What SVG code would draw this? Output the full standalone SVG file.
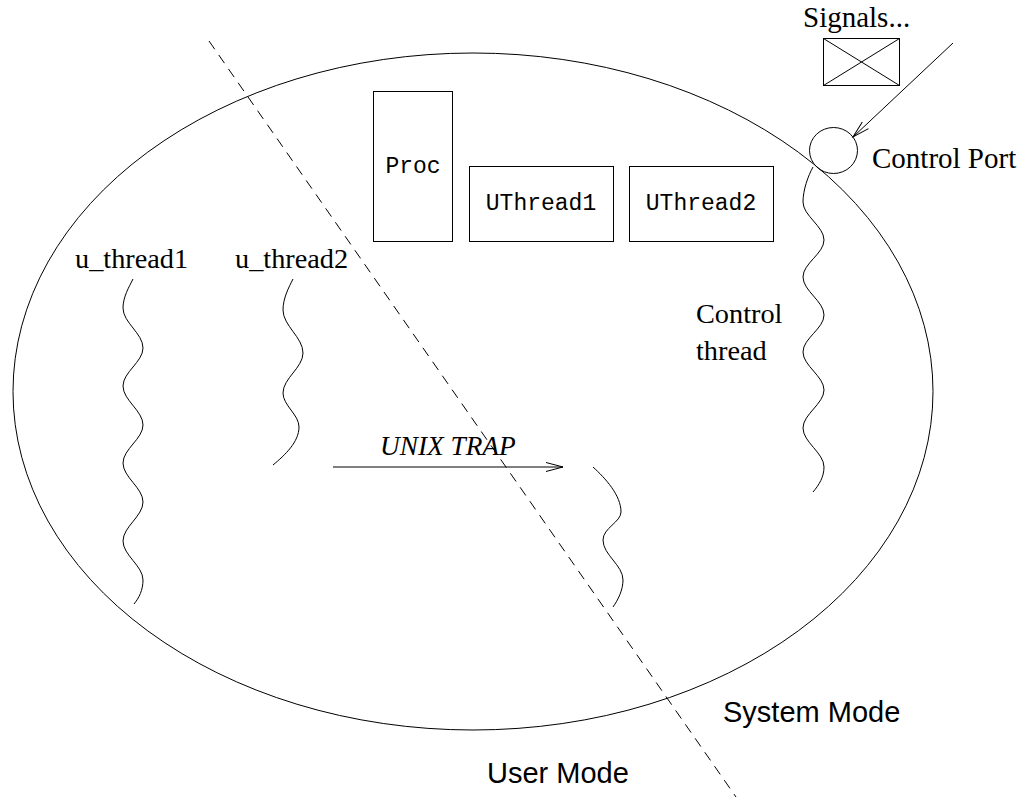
<svg xmlns="http://www.w3.org/2000/svg" width="1025" height="797" viewBox="0 0 1025 797">
<style>
.ln{fill:none;stroke:#000;stroke-width:1}
.serif{font-family:"Liberation Serif","Times New Roman",serif;fill:#000}
.sans{font-family:"Liberation Sans",Arial,sans-serif;fill:#000}
.mono{font-family:"Liberation Mono","Courier New",monospace;fill:#000;font-size:23px}
</style>
<defs>
<marker id="arr" markerUnits="userSpaceOnUse" markerWidth="20" markerHeight="12" refX="0" refY="0" viewBox="-18 -6 20 12" orient="auto" overflow="visible">
<path d="M-17,-4.5 L0,0 L-17,4.5" fill="none" stroke="#000" stroke-width="1"/>
</marker>
</defs>
<rect width="1025" height="797" fill="#fff"/>
<g id="process">
<ellipse class="ln" cx="473" cy="391.5" rx="460" ry="338.5"/>
</g>
<g id="mode-divider">
<line class="ln" x1="209" y1="41" x2="736" y2="797" stroke-dasharray="10 7"/>
</g>
<g id="proc">
<rect class="ln" x="373.5" y="91.5" width="79" height="150"/>
<text class="mono" x="413" y="173" text-anchor="middle">Proc</text>
</g>
<g id="uthread1">
<rect class="ln" x="469.5" y="166.5" width="144" height="75"/>
<text class="mono" x="541" y="209.5" text-anchor="middle">UThread1</text>
</g>
<g id="uthread2">
<rect class="ln" x="629.5" y="166.5" width="144" height="75"/>
<text class="mono" x="701" y="209.5" text-anchor="middle">UThread2</text>
</g>
<g id="signals">
<text class="serif" x="803" y="27" font-size="29">Signals...</text>
<rect class="ln" x="823.5" y="38.5" width="76" height="47"/>
<path class="ln" d="M823.5,38.5 L899.5,85.5 M899.5,38.5 L823.5,85.5"/>
</g>
<g id="control-port">
<ellipse class="ln" cx="833.5" cy="150.5" rx="24" ry="23"/>
<text class="serif" x="872" y="168" font-size="29">Control Port</text>
</g>
<g id="u_thread1">
<text class="serif" x="75" y="268" font-size="28.3">u_thread1</text>
<path class="ln" d="M133,279 C129,287 123,297 123,308 C123,322.6 143,333.4 143,348 C143,361.8 123,372.2 123,386 C123,400.2 143,410.8 143,425 C143,438.8 123,449.2 123,463 C123,477.2 143,487.8 143,502 C143,516.2 123,526.8 123,541 C123,555.2 143,565.8 143,580 C143,590 139,598 134,604"/>
</g>
<g id="u_thread2">
<text class="serif" x="235" y="268" font-size="28.3">u_thread2</text>
<path class="ln" d="M293,279 C289,287 283,298 283,310 C283,325.6 303,337.4 303,353 C303,367.6 283,378.4 283,393 C283,405.4 299,414.6 299,427 C299,442 285,455 273,465"/>
</g>
<g id="control-thread">
<text class="serif" x="696" y="323" font-size="28.3">Control</text>
<text class="serif" x="696" y="360" font-size="28.3">thread</text>
<path class="ln" d="M813,167 C808,176 803,190 803,202 C803,215.7 824,226.3 824,240 C824,253.7 803,263.3 803,277 C803,290.7 824,301.3 824,315 C824,328.7 803,338.3 803,352 C803,365.7 824,376.3 824,390 C824,403.7 803,414.3 803,428 C803,442.2 824,452.8 824,467 C824,477 819,485 813,492"/>
</g>
<g id="system-thread">
<path class="ln" d="M593,467 C605,478 621,495 621,512 C621,522 603,528 603,540 C603,555 623,565 623,580 C623,590 618,600 613,607"/>
</g>
<g id="labels">
<text class="serif" x="380" y="455" font-size="27.3" font-style="italic">UNIX TRAP</text>
<text class="sans" x="723" y="722" font-size="29">System Mode</text>
<text class="sans" x="487" y="783" font-size="29">User Mode</text>
</g>
<g id="connectors">
<line class="ln" x1="333" y1="467" x2="563" y2="467" marker-end="url(#arr)"/>
<line class="ln" x1="953" y1="43" x2="853" y2="137" marker-end="url(#arr)"/>
</g>
</svg>
